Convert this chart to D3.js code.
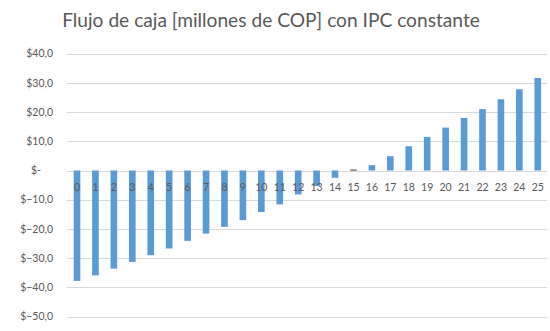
<!DOCTYPE html>
<html>
<head>
<meta charset="utf-8">
<script src="https://cdn.jsdelivr.net/npm/d3@7"></script>
<style>
  body { margin: 0; background: #fff; }
  svg { display: block; }
</style>
</head>
<body>
<svg id="chart" width="550" height="331"></svg>
<script>
// años del flujo (0..25) y flujo de caja en millones de COP
var years = d3.range(0, 26).map(String);
var flows = [-37.8, -35.9, -33.6, -31.3, -29.0, -26.7, -24.1, -21.6, -19.3, -17.0,
             -14.2, -11.6, -8.2, -5.3, -2.5, 0.4, 1.8, 4.9, 8.3, 11.5,
             14.7, 18.0, 21.0, 24.4, 27.8, 31.7];
var yTicks = [40, 30, 20, 10, 0, -10, -20, -30, -40, -50];

var TITLE = "Flujo de caja [millones de COP] con IPC constante";
var BAR_COLOR = "#5b9bd5";
var TEXT_COLOR = "#595959";
var GRID_COLOR = "#d9d9d9";

var svg = d3.select("#chart");

var x = d3.scaleBand()
    .domain(years)
    .range([67.8, 547])
    .paddingInner(0.64)
    .paddingOuter(0.32);

var y = d3.scaleLinear()
    .domain([-50, 40])
    .range([316.5, 53.7]);

// titulo
var title = svg.append("text")
    .attr("x", 271)
    .attr("y", 27)
    .attr("text-anchor", "middle")
    .style("font-family", "Lato, 'Open Sans', sans-serif")
    .style("font-size", "18px")
    .style("fill", TEXT_COLOR)
    .text(TITLE);
var tw = title.node().getComputedTextLength();
title.style("font-size", (18 * 418 / tw).toFixed(2) + "px");

// lineas de cuadricula
var g_grid = svg.append("g");
g_grid.selectAll("line")
    .data(yTicks)
    .enter().append("line")
    .attr("x1", 67)
    .attr("x2", 547)
    .attr("y1", function(d) { return Math.round(y(d)) + 0.5; })
    .attr("y2", function(d) { return Math.round(y(d)) + 0.5; })
    .style("stroke", GRID_COLOR)
    .style("stroke-width", 1);

// etiquetas del eje y
var fmt = function(d) {
    if (d === 0) return "$-";
    return "$" + d3.format(".1f")(d).replace(".", ",");
};
svg.append("g").selectAll("text")
    .data(yTicks)
    .enter().append("text")
    .attr("x", function(d) { return d === 0 ? 41 : 53; })
    .attr("y", function(d) { return y(d); })
    .attr("dy", "0.35em")
    .attr("text-anchor", "end")
    .style("font-family", "Lato, 'Open Sans', sans-serif")
    .style("font-size", "10.5px")
    .style("fill", TEXT_COLOR)
    .text(fmt);

// barras
var g_bars = svg.append("g");
g_bars.selectAll("rect")
    .data(flows)
    .enter().append("rect")
    .attr("x", function(d, i) { return x(years[i]); })
    .attr("width", x.bandwidth())
    .attr("y", function(d) { return y(Math.max(0, d)); })
    .attr("height", function(d) { return Math.max(1.5, Math.abs(y(d) - y(0))); })
    .style("fill", function(d) { return Math.abs(d) < 1 ? "#7f7f7f" : BAR_COLOR; });

// etiquetas de categoria junto al eje
svg.append("g").selectAll("text")
    .data(years)
    .enter().append("text")
    .attr("x", function(d) { return x(d) + x.bandwidth() / 2; })
    .attr("y", 190.5)
    .attr("text-anchor", "middle")
    .style("font-family", "Lato, 'Open Sans', sans-serif")
    .style("font-size", "10.5px")
    .style("fill", TEXT_COLOR)
    .text(function(d) { return d; });
</script>
</body>
</html>
